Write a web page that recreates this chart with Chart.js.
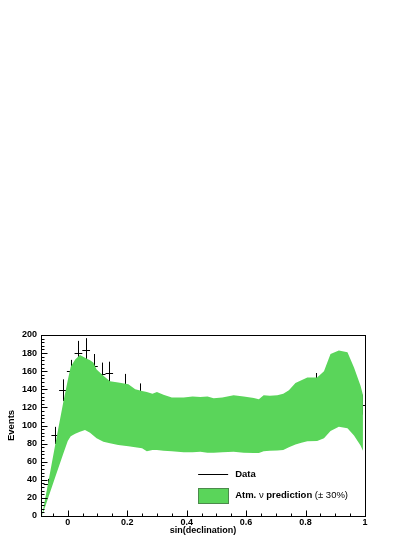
<!DOCTYPE html>
<html>
<head>
<meta charset="utf-8">
<script src="https://cdn.jsdelivr.net/npm/chart.js@4/dist/chart.umd.min.js"></script>
<style>
  html, body { margin: 0; padding: 0; background: #ffffff; }
  #wrap { width: 415px; height: 537px; }
</style>
</head>
<body>
<div id="wrap"><canvas id="c" width="415" height="537"></canvas></div>
<script>
// ---- data ----
const binX = [-0.068, -0.042, -0.016, 0.010, 0.036, 0.062, 0.088, 0.114, 0.140, 0.165,
              0.191, 0.217, 0.243, 0.268, 0.294, 0.320, 0.346, 0.372, 0.397, 0.423,
              0.449, 0.475, 0.500, 0.526, 0.552, 0.578, 0.604, 0.629, 0.655, 0.681,
              0.707, 0.733, 0.758, 0.784, 0.810, 0.836, 0.862, 0.887, 0.913, 0.939,
              0.965, 0.990];
const dataY = [35, 89, 139, 160, 180, 183, 166, 157, 158, 130,
               145, 128, 135, 122, 112, 108, 106, 112, 109, 118,
               100, 108, 110, 116, 103, 104, 112, 107, 108, 109,
               114, 118, 108, 120, 108, 146, 141, 152, 141, 156,
               141, 123];
const dataErr = [6, 9.5, 12, 12.5, 13.5, 13.5, 13, 12.5, 12.5, 11.5,
                 12, 11.5, 11.5, 11, 10.5, 10.5, 10.5, 10.5, 10.5, 11,
                 10, 10.5, 10.5, 11, 10, 10, 10.5, 10.5, 10.5, 10.5,
                 10.5, 11, 10.5, 11, 10.5, 12, 12, 12.5, 12, 12.5,
                 12, 11];

const bandX = [-0.087, -0.068, -0.042, -0.016, 0.000, 0.010, 0.025, 0.041, 0.058, 0.075,
               0.086, 0.097, 0.120, 0.142, 0.170, 0.204, 0.227, 0.250, 0.266, 0.285,
               0.300, 0.322, 0.350, 0.390, 0.420, 0.446, 0.470, 0.491, 0.520, 0.558,
               0.592, 0.626, 0.643, 0.659, 0.680, 0.705, 0.725, 0.744, 0.766, 0.786,
               0.806, 0.839, 0.862, 0.884, 0.912, 0.941, 0.963, 0.985, 0.993];
const bandUpper = [0, 33, 79, 124, 150, 165, 173, 178, 175, 172,
                   169.6, 162, 155, 149, 147.4, 145.5, 140, 138, 137, 135,
                   137, 134, 131, 131, 132, 131.5, 132, 130, 131, 133.5,
                   132, 130.5, 129, 133.5, 133, 133.5, 135, 139, 147, 150,
                   153, 153, 160, 179, 183, 181, 164, 144, 134];
const bandLower = [0, 18, 43, 68, 83, 88, 91, 93, 95, 92,
                   89, 86, 82, 80.5, 78.5, 77, 76, 75, 71.5, 73,
                   73, 72, 71.5, 70.5, 70.5, 71, 70, 70, 70.5, 71,
                   70, 69.5, 69.5, 71.5, 72, 72.5, 73, 76, 79, 81,
                   82.5, 83, 86, 94, 98.5, 97, 89, 78, 72];

const xTicks = [0, 0.2, 0.4, 0.6, 0.8, 1];
const yTicks = [0, 20, 40, 60, 80, 100, 120, 140, 160, 180, 200];

const seriesLabels = ['Data', 'Atm. \u03BD prediction (\u00B1 30%)'];

// ---- styles ----
const GREEN = '#5ad55a';
const GREEN_EDGE = '#4b8a4b';
const FONT = '"Liberation Sans", Arial, Helvetica, sans-serif';

// error bars for the Data dataset, through the chart scales
const errorBarPlugin = {
  id: 'errorBars',
  afterDatasetDraw(chart, args) {
    if (args.index !== 0) return;
    const {ctx, scales: {x, y}, chartArea} = chart;
    ctx.save();
    ctx.beginPath();
    ctx.rect(chartArea.left, chartArea.top - 1, chartArea.right - chartArea.left + 3, chartArea.bottom - chartArea.top + 2);
    ctx.clip();
    ctx.strokeStyle = '#000';
    ctx.lineWidth = 1;
    for (let i = 0; i < binX.length; i++) {
      const prev = i > 0 ? binX[i - 1] : binX[i] - (binX[1] - binX[0]);
      const next = i < binX.length - 1 ? binX[i + 1] : binX[i] + (binX[i] - binX[i - 1]);
      const xl = x.getPixelForValue((prev + binX[i]) / 2);
      const xr = x.getPixelForValue((binX[i] + next) / 2);
      const xc = Math.round(x.getPixelForValue(binX[i])) + 0.5;
      const yc = Math.round(y.getPixelForValue(dataY[i])) + 0.5;
      const yt = y.getPixelForValue(dataY[i] + dataErr[i]);
      const yb = y.getPixelForValue(dataY[i] - dataErr[i]);
      ctx.beginPath();
      ctx.moveTo(xl, yc); ctx.lineTo(xr, yc);
      ctx.moveTo(xc, yt); ctx.lineTo(xc, yb);
      ctx.stroke();
    }
    ctx.restore();
  }
};

// frame + inward ticks, drawn over everything like ROOT
const framePlugin = {
  id: 'frame',
  afterDraw(chart) {
    const {ctx, scales: {x, y}, chartArea: a} = chart;
    ctx.save();
    ctx.strokeStyle = '#000';
    ctx.lineWidth = 1;
    const L = Math.round(a.left) + 0.5, R = Math.round(a.right) + 0.5;
    const T = Math.round(a.top) + 0.5, B = Math.round(a.bottom) + 0.5;
    ctx.strokeRect(L, T, R - L, B - T);
    ctx.beginPath();
    // y ticks
    const yStep = (yTicks[1] - yTicks[0]) / 5;
    for (let v = yTicks[0]; v <= yTicks[yTicks.length - 1] + 1e-9; v += yStep) {
      const py = Math.round(y.getPixelForValue(v)) + 0.5;
      const major = yTicks.some(t => Math.abs(t - v) < 1e-6);
      ctx.moveTo(L, py); ctx.lineTo(L + (major ? 6 : 3), py);
    }
    // x ticks
    const xStep = (xTicks[1] - xTicks[0]) / 4;
    for (let v = xTicks[0] - xStep; v <= xTicks[xTicks.length - 1] + 1e-9; v += xStep) {
      if (v < x.min) continue;
      const px = Math.round(x.getPixelForValue(v)) + 0.5;
      const major = xTicks.some(t => Math.abs(t - v) < 1e-6);
      ctx.moveTo(px, B); ctx.lineTo(px, B - (major ? 6 : 3));
    }
    ctx.stroke();
    ctx.restore();
  }
};

// legend (ROOT TLegend style, no frame)
const legendPlugin = {
  id: 'rootLegend',
  afterDraw(chart) {
    const {ctx, chartArea: a} = chart;
    const w = a.right - a.left, h = a.bottom - a.top;
    const x0 = a.left + 0.485 * w;
    const x1 = x0 + 30;
    const tx = x1 + 7;
    const y1 = a.top + 0.77 * h;
    const y2 = a.top + 0.885 * h;
    ctx.save();
    // Data entry
    ctx.strokeStyle = '#000';
    ctx.lineWidth = 1;
    ctx.beginPath();
    ctx.moveTo(x0, Math.round(y1) + 0.5); ctx.lineTo(x1, Math.round(y1) + 0.5);
    ctx.stroke();
    ctx.fillStyle = '#000';
    ctx.textBaseline = 'middle';
    ctx.textAlign = 'left';
    ctx.font = 'bold 9.5px ' + FONT;
    ctx.fillText(seriesLabels[0], tx, y1);
    // band entry
    ctx.fillStyle = GREEN;
    ctx.fillRect(x0, y2 - 7, 30, 15);
    ctx.strokeStyle = GREEN_EDGE;
    ctx.strokeRect(Math.round(x0) + 0.5, Math.round(y2 - 7) + 0.5, 30, 15);
    const parts = [
      ['bold 9.5px ' + FONT, 'Atm. '],
      ['9.5px ' + FONT, '\u03BD'],
      ['bold 9.5px ' + FONT, ' prediction '],
      ['9.5px ' + FONT, '(\u00B1 30%)']
    ];
    let cx = tx;
    ctx.fillStyle = '#000';
    for (const [f, s] of parts) {
      ctx.font = f;
      ctx.fillText(s, cx, y2 + 0.5);
      cx += ctx.measureText(s).width;
    }
    ctx.restore();
  }
};

const ctx = document.getElementById('c').getContext('2d');
new Chart(ctx, {
  type: 'line',
  data: {
    datasets: [
      {
        label: seriesLabels[0],
        data: binX.map((v, i) => ({x: v, y: dataY[i]})),
        showLine: false,
        pointRadius: 0,
        borderColor: '#000',
        order: 3
      },
      {
        label: 'upper',
        data: bandX.map((v, i) => ({x: v, y: bandUpper[i]})),
        borderColor: 'rgba(0,0,0,0)',
        borderWidth: 0,
        backgroundColor: GREEN,
        pointRadius: 0,
        tension: 0,
        fill: '+1',
        order: 1
      },
      {
        label: 'lower',
        data: bandX.map((v, i) => ({x: v, y: bandLower[i]})),
        borderColor: 'rgba(0,0,0,0)',
        borderWidth: 0,
        backgroundColor: GREEN,
        pointRadius: 0,
        tension: 0,
        fill: false,
        order: 1
      }
    ]
  },
  options: {
    responsive: false,
    animation: false,
    events: [],
    layout: { padding: { top: 335, right: 50, left: 0, bottom: 0 } },
    plugins: {
      legend: { display: false },
      tooltip: { enabled: false },
      filler: { drawTime: 'beforeDatasetDraw' }
    },
    scales: {
      x: {
        type: 'linear',
        min: -0.09,
        max: 1.0,
        afterBuildTicks: s => { s.ticks = xTicks.map(v => ({value: v})); },
        afterFit: s => { s.height = 21; },
        grid: { display: false, drawTicks: false },
        border: { display: false },
        ticks: {
          padding: 1,
          color: '#000',
          font: { family: FONT, size: 9, weight: 'bold' },
          maxRotation: 0,
          callback: v => String(+Number(v).toFixed(1))
        },
        title: {
          display: true,
          text: 'sin(declination)',
          color: '#000',
          font: { family: FONT, size: 9, weight: 'bold' },
          padding: { top: 0, bottom: 1 }
        }
      },
      y: {
        type: 'linear',
        min: 0,
        max: 200,
        afterBuildTicks: s => { s.ticks = yTicks.map(v => ({value: v})); },
        afterFit: s => { s.width = 41; },
        grid: { display: false, drawTicks: false },
        border: { display: false },
        ticks: {
          padding: 4,
          color: '#000',
          font: { family: FONT, size: 9, weight: 'bold' }
        },
        title: {
          display: true,
          text: 'Events',
          color: '#000',
          font: { family: FONT, size: 9.5, weight: 'bold' },
          padding: { top: 5.5, bottom: 0 }
        }
      }
    }
  },
  plugins: [errorBarPlugin, framePlugin, legendPlugin]
});
</script>
</body>
</html>
